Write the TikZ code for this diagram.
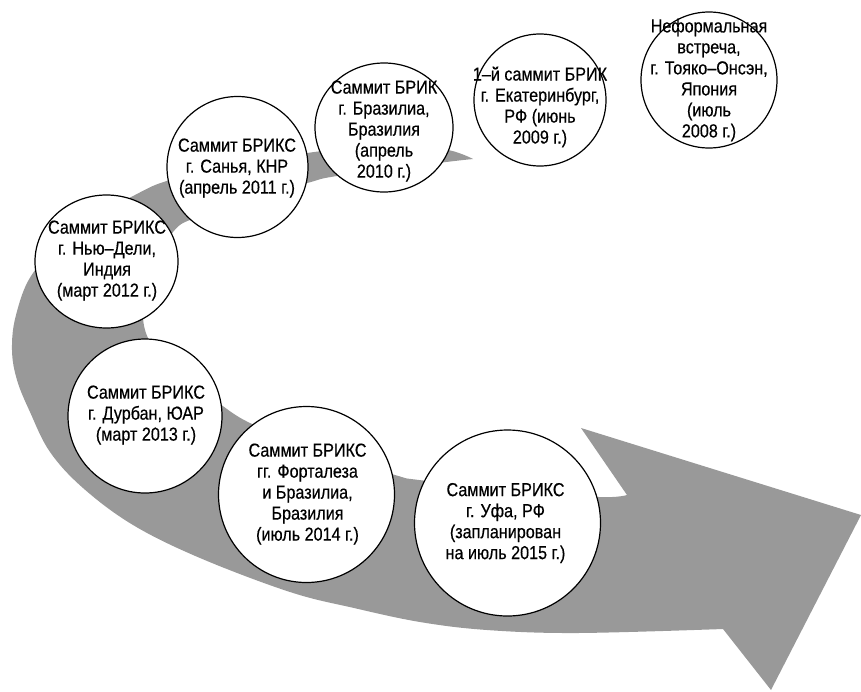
\documentclass[tikz,border=0pt]{standalone}
\usepackage{fontspec}
\setmainfont[FakeStretch=0.86,FakeBold=0.4]{Liberation Sans}
\usetikzlibrary{shapes.geometric}
\definecolor{arrowgray}{RGB}{153,153,153}
\begin{document}
\begin{tikzpicture}[x=1pt,y=-1pt,
  bubble/.style={draw=black, line width=1.2pt, fill=white, circle, inner sep=0pt},
  oval/.style={draw=black, line width=1.2pt, fill=white, ellipse, inner sep=0pt},
  txt/.style={align=center, font=\fontsize{18.8}{21}\selectfont, inner sep=0pt}]
\useasboundingbox (0,0) rectangle (861,691);
% swoosh arrow
\fill[arrowgray] plot[smooth, tension=0.6] coordinates {(473,159) (443,149) (380,146) (307,153) (230,167) (170,180) (135,195) (75,230) (33,273) (16,315) (12,350) (17,380) (30,412) (50,452) (83,488) (133,525) (200,558) (290,592) (354,608) (420,622) (487,630) (577,633) (723,629)}
  -- (771,690) -- (861,515) -- (581,428) -- (627,495)
  -- plot[smooth, tension=0.6] coordinates {(627,495) (599,497) (510,490) (419,480) (395,475) (320,452) (250,423) (217,402) (180,377) (153,347) (143,318) (148,278) (173,232) (197,217) (250,197) (307,183) (337,176) (438,163) (473,159)}
  -- cycle;
% circles
\node[bubble, minimum size=136pt] (c2008) at (709,80) {};
\node[bubble, minimum size=132pt] (c2009) at (540,100) {};
\node[oval, minimum width=138pt, minimum height=129pt] (c2010) at (384,127.5) {};
\node[bubble, minimum size=141pt] (c2011) at (237.5,167) {};
\node[oval, minimum width=143pt, minimum height=133pt] (c2012) at (106.5,261.5) {};
\node[bubble, minimum size=154pt] (c2013) at (145,416) {};
\node[bubble, minimum size=176pt] (c2014) at (306.5,494.5) {};
\node[bubble, minimum size=186pt] (c2015) at (507.5,523) {};
% texts
\node[txt] (t2008) at (709,80) {Неформальная\\встреча,\\г. Тояко–Онсэн,\\Япония\\(июль\\2008 г.)};
\node[txt] (t2009) at (540,107) {1–й саммит БРИК\\г. Екатеринбург,\\РФ (июнь\\2009 г.)};
\node[txt] (t2010) at (384,131) {Саммит БРИК\\г. Бразилиа,\\Бразилия\\(апрель\\2010 г.)};
\node[txt] (t2011) at (237,168) {Саммит БРИКС\\г. Санья, КНР\\(апрель 2011 г.)};
\node[txt] (t2012) at (107,260.5) {Саммит БРИКС\\г. Нью–Дели,\\Индия\\(март 2012 г.)};
\node[txt] (t2013) at (146,415) {Саммит БРИКС\\г. Дурбан, ЮАР\\(март 2013 г.)};
\node[txt] (t2014) at (307.5,494) {Саммит БРИКС\\гг. Форталеза\\и Бразилиа,\\Бразилия\\(июль 2014 г.)};
\node[txt] (t2015) at (505.5,523) {Саммит БРИКС\\г. Уфа, РФ\\(запланирован\\на июль 2015 г.)};
\end{tikzpicture}
\end{document}
